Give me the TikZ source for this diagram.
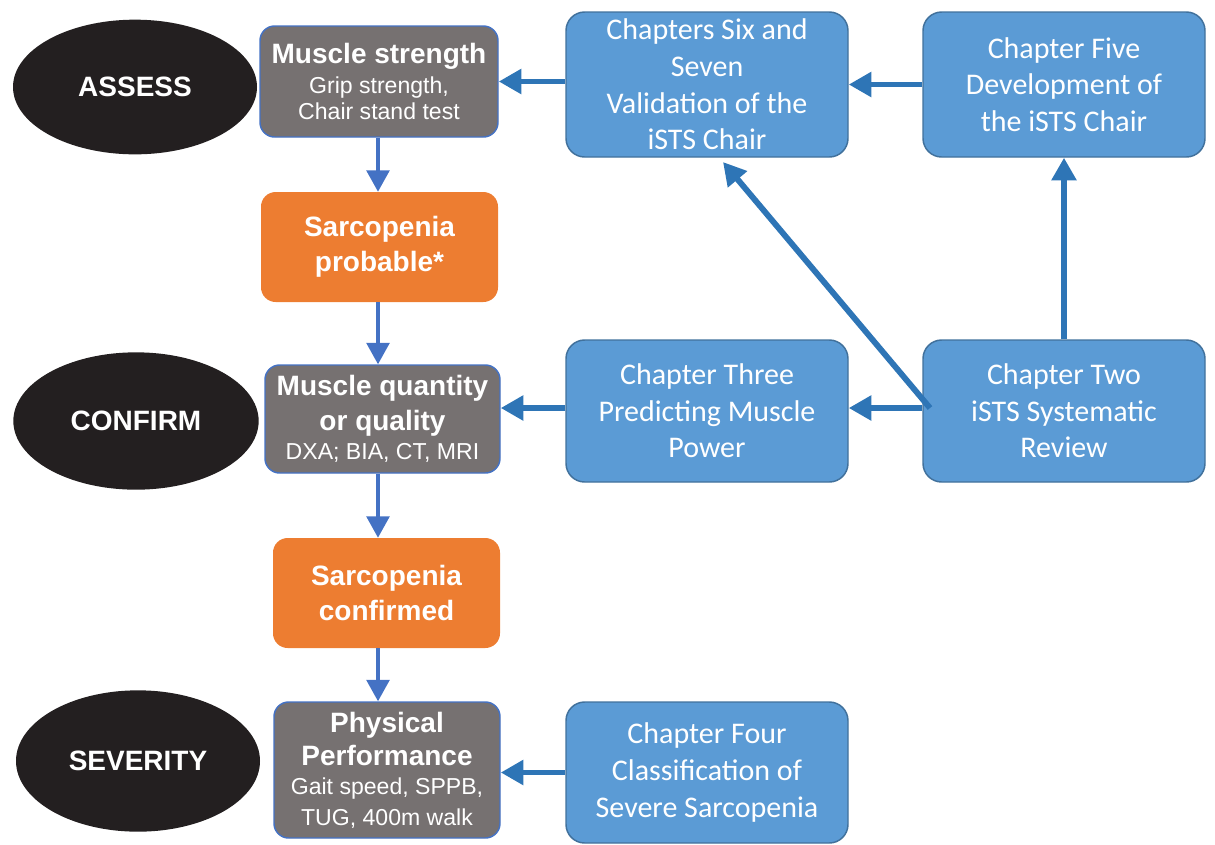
\documentclass[tikz,border=0pt]{standalone}
\usepackage{fontspec}
\setmainfont{Liberation Sans}
\newfontfamily\calibfont{Carlito}
\usetikzlibrary{arrows.meta,shapes.geometric}
\definecolor{boxblue}{HTML}{5B9BD5}
\definecolor{boxblueedge}{HTML}{41719C}
\definecolor{arrowblue}{HTML}{2E75B6}
\definecolor{flowblue}{HTML}{4472C4}
\definecolor{grayfill}{HTML}{767171}
\definecolor{orangefill}{HTML}{ED7D31}
\definecolor{ellfill}{HTML}{231F20}
\newcommand\mytitle{\fontsize{21}{22}\selectfont\bfseries}
\newcommand\mysub{\fontsize{17.3}{22}\selectfont\mdseries}
\tikzset{
  ell/.style={ellipse, fill=ellfill, text=white, font=\fontsize{21}{26}\selectfont\bfseries, inner sep=0},
  graybox/.style={draw=flowblue, line width=1.1pt, fill=grayfill, rounded corners=11pt, text=white, align=center, inner sep=0,
     font=\fontsize{17.3}{22}\selectfont},
  orangebox/.style={fill=orangefill, rounded corners=11pt, text=white, align=center, inner sep=0, font=\fontsize{21}{26}\selectfont\bfseries},
  bluebox/.style={draw=boxblueedge, line width=1.1pt, fill=boxblue, rounded corners=14pt, text=white, align=center, inner sep=0,
     minimum width=211.5pt, font=\calibfont\fontsize{22.5}{27.5}\selectfont},
  flowarrow/.style={draw=flowblue, line width=2.6pt, -{Triangle[length=16pt,width=17pt]}},
  chaparrow/.style={draw=arrowblue, line width=4.4pt, -{Triangle[length=17pt,width=18pt]}},
}
\begin{document}
\begin{tikzpicture}[x=0.75pt,y=-0.75pt]
\useasboundingbox (0,0) rectangle (1215,844);
% ellipses
\node[ell, minimum width=183pt, minimum height=101pt] (assess) at (135,87) {ASSESS};
\node[ell, minimum width=184pt, minimum height=103pt] (confirm) at (136,421) {CONFIRM};
\node[ell, minimum width=183pt, minimum height=106pt] (severity) at (138,761) {SEVERITY};
% left column
\node[graybox, minimum width=178.5pt, minimum height=83.25pt] (ms) at (379,81.5)
  {{\mytitle Muscle strength}\\{\mysub Grip strength,}\\[-2.5pt]{\mysub Chair stand test}};
\node[orangebox, minimum width=177.75pt, minimum height=82.5pt] (prob) at (379.5,247)
  {Sarcopenia\\probable*};
\node[graybox, minimum width=176.25pt, minimum height=81pt] (mq) at (382.5,419)
  {{\mytitle Muscle quantity}\\[4pt]{\mytitle or quality}\\{\mysub DXA; BIA, CT, MRI}};
\node[orangebox, minimum width=170.25pt, minimum height=82.5pt] (conf) at (386.5,593)
  {Sarcopenia\\confirmed};
\node[graybox, minimum width=169.5pt, minimum height=102pt] (pp) at (387,770)
  {{\mytitle Physical}\\[3pt]{\mytitle Performance}\\{\mysub Gait speed, SPPB,}\\[1pt]{\mysub TUG, 400m walk}};
% chapter boxes
\node[bluebox, minimum height=108.75pt] (ch6) at (707,84.5)
  {Chapters Six and\\Seven\\Validation of the\\iSTS Chair};
\node[bluebox, minimum height=108.75pt] (ch5) at (1064,84.5)
  {Chapter Five\\Development of\\the iSTS Chair};
\node[bluebox, minimum height=106.5pt] (ch3) at (707,411)
  {Chapter Three\\Predicting Muscle\\Power};
\node[bluebox, minimum height=106.5pt] (ch2) at (1064,411)
  {Chapter Two\\iSTS Systematic\\Review};
\node[bluebox, minimum height=105.75pt] (ch4) at (707,772.5)
  {Chapter Four\\Classification of\\Severe Sarcopenia};
% flow arrows
\coordinate (fx) at (378,0);
\draw[flowarrow] (ms.south -| fx) -- (prob.north -| fx);
\draw[flowarrow] (prob.south -| fx) -- (mq.north -| fx);
\draw[flowarrow] (mq.south -| fx) -- (conf.north -| fx);
\draw[flowarrow] (conf.south -| fx) -- (pp.north -| fx);
% chapter arrows
\draw[chaparrow] (ch6.west |- ms.east) -- (ms.east);
\draw[chaparrow] (ch5.west) -- (ch6.east);
\draw[chaparrow] (ch2.north) -- (ch5.south);
\coordinate (c2a) at (930,408);
\coordinate (c6tip) at (723,162);
\draw[chaparrow] (ch2.west |- c2a) -- (ch3.east |- c2a);
\draw[chaparrow] (ch3.west |- c2a) -- (mq.east |- c2a);
\draw[chaparrow] (c2a) -- (c6tip);
\draw[chaparrow] (ch4.west) -- (pp.east |- ch4.west);
\end{tikzpicture}
\end{document}
